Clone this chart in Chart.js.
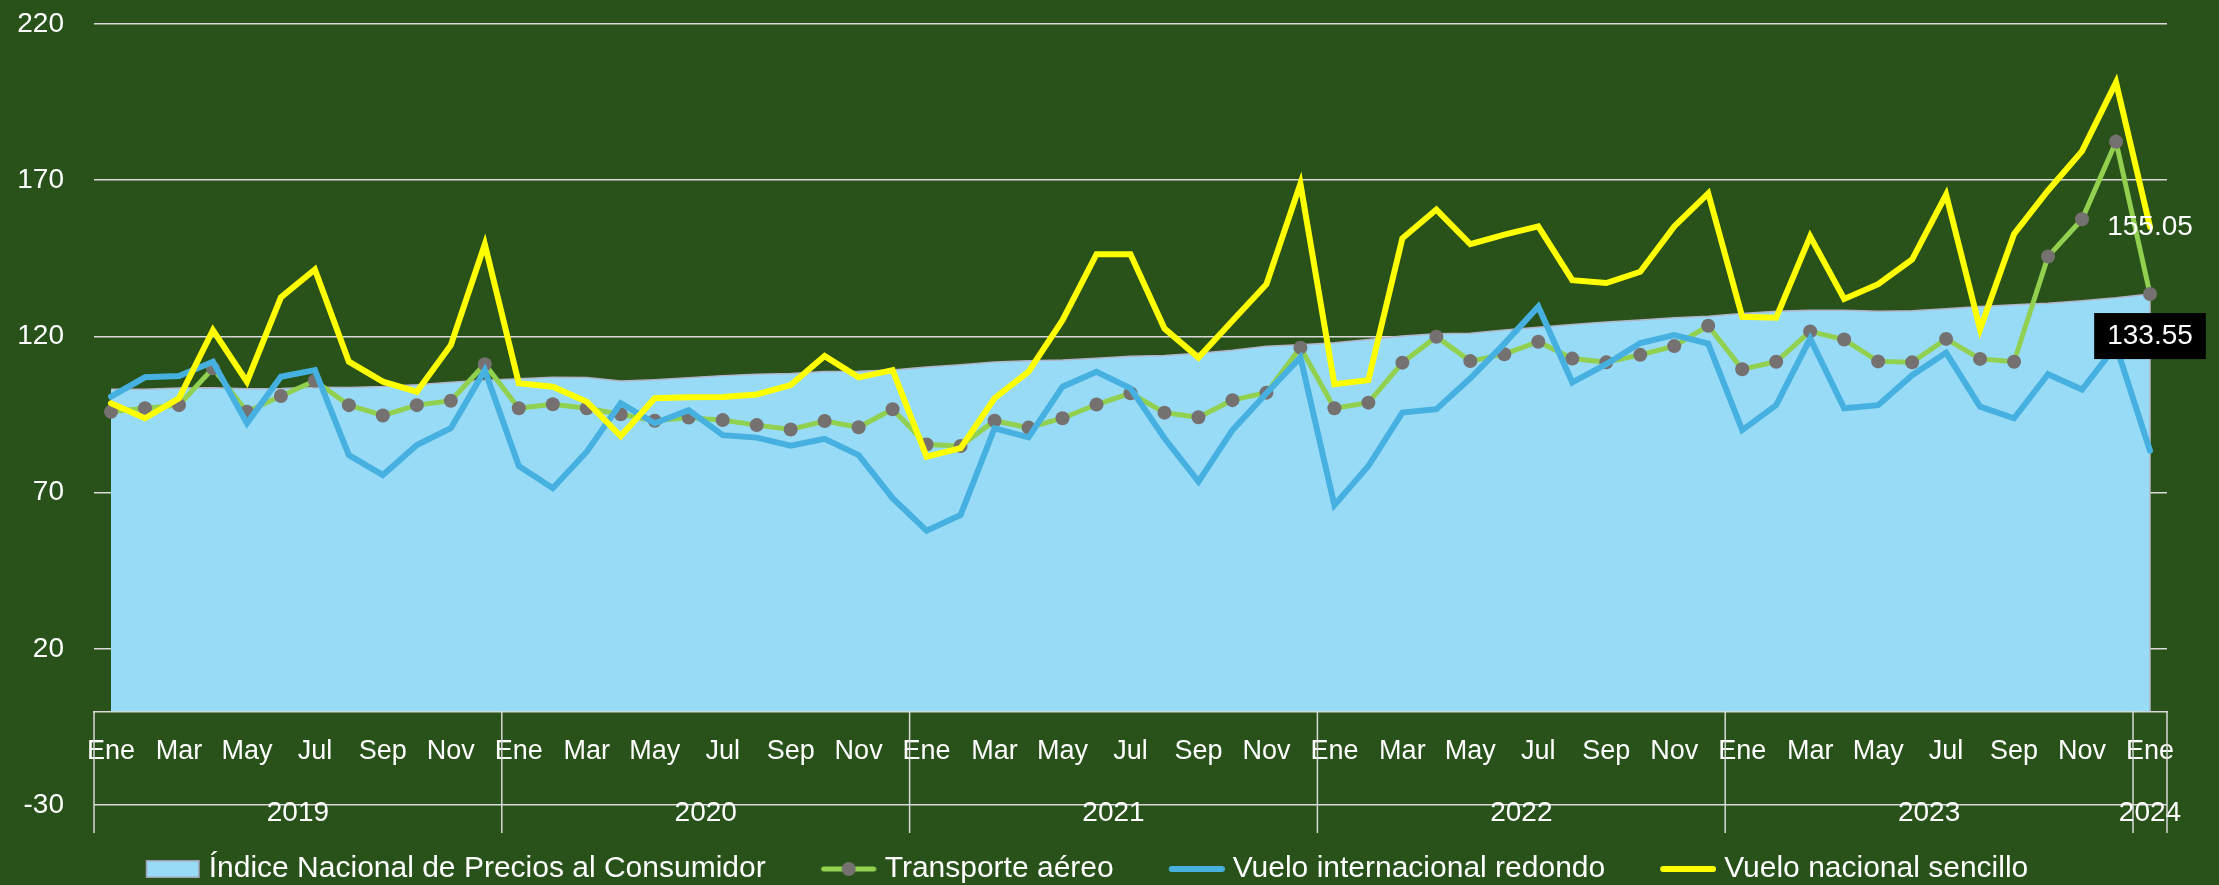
<!DOCTYPE html>
<html lang="es">

<head>
  <meta charset="UTF-8">
  <title>INPC y transporte aéreo</title>
  <script src="https://cdn.jsdelivr.net/npm/chart.js"></script>
  <style>
    body {
      margin: 0;
      background: #285219;
    }

    canvas {
      display: block;
    }
  </style>
</head>

<body>

  <canvas id="myChart" width="2219" height="885"></canvas>

  <script>
    // Monthly data, Ene 2019 - Ene 2024
    const monthNames = ['Ene', 'Feb', 'Mar', 'Abr', 'May', 'Jun', 'Jul', 'Ago', 'Sep', 'Oct', 'Nov', 'Dic'];
    const years = ['2019', '2020', '2021', '2022', '2023', '2024'];
    const yTicks = [-30, 20, 70, 120, 170, 220];

    const inpc = [
      103.108, 103.079, 103.476, 103.531, 103.233, 103.299, 103.687, 103.670, 103.942, 104.503, 105.346, 105.934,
      106.447, 106.889, 106.838, 105.755, 106.162, 106.743, 107.444, 107.867, 108.114, 108.774, 108.856, 109.271,
      110.210, 110.907, 111.824, 112.190, 112.419, 113.018, 113.682, 113.899, 114.601, 115.561, 116.884, 117.308,
      118.002, 118.981, 120.159, 120.809, 121.022, 122.044, 122.948, 123.803, 124.571, 125.276, 125.997, 126.478,
      127.336, 128.046, 128.389, 128.363, 128.084, 128.214, 128.832, 129.545, 130.120, 130.609, 131.445, 132.373,
      133.555
    ];
    const transporte = [
      95.9, 97.0, 98.0, 109.8, 95.9, 100.9, 105.8, 98.0, 94.7, 98.0, 99.4, 111.1,
      97.0, 98.3, 97.0, 95.1, 93.0, 94.0, 93.2, 91.6, 90.2, 92.9, 90.9, 96.7,
      85.4, 84.9, 93.0, 90.8, 93.8, 98.2, 101.8, 95.6, 94.1, 99.6, 102.0, 116.4,
      97.0, 98.8, 111.6, 119.9, 112.1, 114.3, 118.3, 112.9, 111.7, 114.1, 116.9, 123.4,
      109.5, 111.9, 121.6, 119.0, 112.0, 111.7, 119.2, 112.8, 111.9, 145.6, 157.5, 182.3,
      133.55
    ];
    const internacional = [
      100.7, 106.9, 107.3, 111.9, 92.2, 107.1, 109.2, 82.0, 75.6, 85.2, 90.6, 109.2,
      78.5, 71.4, 83.1, 98.6, 92.2, 96.4, 88.4, 87.6, 85.0, 87.2, 82.0, 68.2,
      57.8, 62.8, 90.6, 87.7, 103.9, 108.7, 103.4, 87.4, 73.5, 90.0, 101.8, 113.3,
      66.0, 78.5, 95.6, 96.7, 106.6, 117.7, 129.5, 105.3, 111.1, 117.9, 120.4, 117.7,
      90.0, 98.0, 119.3, 97.0, 98.0, 107.6, 114.8, 97.5, 93.8, 107.9, 103.0, 117.0,
      83.4
    ];
    const nacional = [
      98.6, 93.8, 100.2, 122.0, 105.5, 132.5, 141.4, 111.9, 105.5, 102.3, 117.2, 149.5,
      105.0, 103.9, 99.1, 88.1, 100.2, 100.5, 100.6, 101.4, 104.4, 113.7, 106.9, 109.2,
      81.5, 84.2, 100.2, 108.7, 125.2, 146.3, 146.3, 122.5, 113.2, 125.0, 136.7, 168.9,
      104.7, 106.0, 151.4, 160.6, 149.5, 152.6, 155.2, 138.0, 137.1, 140.7, 155.2, 165.8,
      126.3, 126.0, 152.0, 132.0, 136.7, 144.6, 165.4, 122.3, 152.8, 166.7, 179.3, 201.3,
      155.05
    ];

    const labels = [];
    for (let i = 0; i < inpc.length; i++) labels.push(monthNames[i % 12]);
    const last = inpc.length - 1;

    const FONT = '"Liberation Sans", Arial, sans-serif';
    Chart.defaults.font.family = FONT;
    Chart.defaults.color = '#ffffff';

    // legend samples, drawn a bit to the right so the gap to the text is small
    function sample(draw) {
      const c = document.createElement('canvas');
      c.width = 69;
      c.height = 20;
      draw(c.getContext('2d'));
      return c;
    }
    function lineSample(color, width) {
      return g => {
        g.strokeStyle = color;
        g.lineWidth = width;
        g.lineCap = 'round';
        g.beginPath();
        g.moveTo(16, 10);
        g.lineTo(66, 10);
        g.stroke();
      };
    }
    const legendSamples = [
      sample(g => {
        g.fillStyle = '#97DBF7';
        g.fillRect(14, 1, 54, 18);
        g.strokeStyle = '#A0A0B4';
        g.lineWidth = 1.5;
        g.strokeRect(14.75, 1.75, 52.5, 16.5);
      }),
      sample(g => {
        lineSample('#92D050', 5)(g);
        g.fillStyle = '#767171';
        g.beginPath();
        g.arc(41, 10, 7, 0, Math.PI * 2);
        g.fill();
      }),
      sample(lineSample('#46B1E1', 6)),
      sample(lineSample('#FFFF00', 6))
    ];

    // year row under the month labels
    const yearAxis = {
      id: 'yearAxis',
      afterDatasetDraw(chart, args) {
        if (args.index !== 0) return;
        const { ctx, scales: { x, y } } = chart;
        const px = x.getPixelForValue(last);
        ctx.save();
        ctx.strokeStyle = '#B4B4C8';
        ctx.lineWidth = 1.5;
        ctx.beginPath();
        ctx.moveTo(px, y.getPixelForValue(inpc[last]));
        ctx.lineTo(px, y.getPixelForValue(0));
        ctx.stroke();
        ctx.restore();
      },
      afterDraw(chart) {
        const { ctx, scales: { x, y } } = chart;
        const half = (x.getPixelForValue(1) - x.getPixelForValue(0)) / 2;
        const top = y.getPixelForValue(0);
        const base = y.getPixelForValue(yTicks[0]);
        ctx.save();
        ctx.strokeStyle = '#D9D9D9';
        ctx.lineWidth = 1.5;
        ctx.fillStyle = '#ffffff';
        ctx.font = '28px ' + FONT;
        ctx.textAlign = 'center';
        ctx.textBaseline = 'middle';
        years.forEach((yr, k) => {
          const first = k * 12;
          const end = Math.min(first + 11, last);
          const x0 = x.getPixelForValue(first) - half;
          const x1 = x.getPixelForValue(end) + half;
          ctx.beginPath();
          ctx.moveTo(x0, top);
          ctx.lineTo(x0, base + 28);
          ctx.stroke();
          ctx.fillText(yr, (x0 + x1) / 2, base + 8);
        });
        const xr = x.getPixelForValue(last) + half;
        ctx.beginPath();
        ctx.moveTo(xr, top);
        ctx.lineTo(xr, base + 28);
        ctx.stroke();
        ctx.restore();
      }
    };

    // labels on the last points
    const valueLabels = {
      id: 'valueLabels',
      afterDatasetsDraw(chart) {
        const { ctx } = chart;
        ctx.save();
        ctx.font = '28px ' + FONT;
        ctx.textAlign = 'center';
        ctx.textBaseline = 'middle';

        const pn = chart.getDatasetMeta(3).data[last];
        ctx.fillStyle = '#ffffff';
        ctx.fillText(nacional[last].toFixed(2), pn.x, pn.y);

        const pt = chart.getDatasetMeta(1).data[last];
        const txt = transporte[last].toFixed(2);
        const w = ctx.measureText(txt).width + 26;
        const h = 46;
        const cy = pt.y + 42;
        ctx.fillStyle = '#000000';
        ctx.fillRect(pt.x - w / 2, cy - h / 2, w, h);
        ctx.fillStyle = '#ffffff';
        ctx.fillText(txt, pt.x, cy);
        ctx.restore();
      }
    };

    const data = {
      labels: labels,
      datasets: [{
        label: 'Índice Nacional de Precios al Consumidor',
        data: inpc,
        backgroundColor: '#97DBF7',
        borderColor: '#B4B4C8',
        borderWidth: 1.5,
        fill: 'origin',
        pointRadius: 0,
        order: 4
      }, {
        label: 'Transporte aéreo',
        data: transporte,
        borderColor: '#92D050',
        backgroundColor: '#92D050',
        borderWidth: 5,
        pointRadius: 7,
        pointBackgroundColor: '#767171',
        pointBorderWidth: 0,
        fill: false,
        order: 3
      }, {
        label: 'Vuelo internacional redondo',
        data: internacional,
        borderColor: '#46B1E1',
        backgroundColor: '#46B1E1',
        borderWidth: 6,
        borderCapStyle: 'round',
        pointRadius: 0,
        fill: false,
        order: 2
      }, {
        label: 'Vuelo nacional sencillo',
        data: nacional,
        borderColor: '#FFFF00',
        backgroundColor: '#FFFF00',
        borderWidth: 6,
        borderCapStyle: 'round',
        pointRadius: 0,
        fill: false,
        order: 1
      }]
    };

    const config = {
      type: 'line',
      data: data,
      options: {
        responsive: false,
        animation: false,
        layout: {
          padding: { top: 24, right: 52, bottom: -9, left: 0 }
        },
        plugins: {
          tooltip: { enabled: false },
          legend: {
            position: 'bottom',
            labels: {
              color: '#ffffff',
              font: { size: 30 },
              usePointStyle: true,
              pointStyleWidth: 55,
              boxHeight: 18,
              padding: 49,
              sort: (a, b) => a.datasetIndex - b.datasetIndex,
              generateLabels(chart) {
                const items = Chart.defaults.plugins.legend.labels.generateLabels(chart);
                items.forEach(it => {
                  it.pointStyle = legendSamples[it.datasetIndex];
                });
                return items;
              }
            }
          }
        },
        scales: {
          x: {
            type: 'category',
            offset: true,
            position: { y: 0 },
            grid: { display: false, drawTicks: false },
            border: { display: true, color: '#D9D9D9', width: 1.5 },
            ticks: {
              color: '#ffffff',
              font: { size: 27 },
              padding: 24,
              autoSkip: false,
              maxRotation: 0,
              callback: (v, i) => (i % 2 === 0 ? labels[i] : '')
            }
          },
          y: {
            min: yTicks[0],
            max: yTicks[yTicks.length - 1],
            ticks: {
              stepSize: yTicks[1] - yTicks[0],
              color: '#ffffff',
              font: { size: 28 },
              padding: 30
            },
            grid: { color: '#D9D9D9', lineWidth: 1.5, drawTicks: false },
            border: { display: false },
            afterFit(scale) {
              scale.width = 94;
              scale.paddingTop = 0;
              scale.paddingBottom = 0;
            }
          }
        }
      },
      plugins: [yearAxis, valueLabels]
    };

    const myChart = new Chart(document.getElementById('myChart'), config);
  </script>

</body>

</html>
